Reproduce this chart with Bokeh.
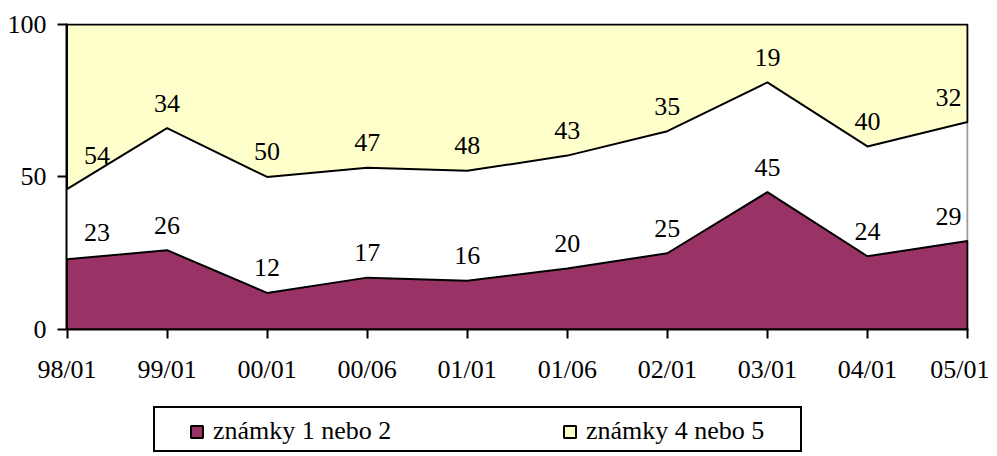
from bokeh.plotting import figure
from bokeh.layouts import column
from bokeh.models import ColumnDataSource, LabelSet, Legend, LegendItem, FixedTicker, Range1d
from bokeh.core.properties import value
from bokeh.embed import file_html
from bokeh.resources import INLINE

# ---- data ----
categories = ["98/01", "99/01", "00/01", "00/06", "01/01", "01/06", "02/01", "03/01", "04/01", "05/01"]
grades_1_2 = [23, 26, 12, 17, 16, 20, 25, 45, 24, 29]
grades_4_5 = [54, 34, 50, 47, 48, 43, 35, 19, 40, 32]
y_ticks = [0, 50, 100]
series_names = ["známky 1 nebo 2", "známky 4 nebo 5"]

FONT = "Liberation Serif"
FS = "26px"
PURPLE = "#993366"
YELLOW = "#FFFFCC"

n = len(categories)
x = list(range(n))
top_boundary = [100 - v for v in grades_4_5]

W = 989
FRAME_W, FRAME_H = 902, 306
p = figure(width=W, height=400, output_backend="svg", toolbar_location=None,
           x_range=Range1d(-0.005, n - 1 + 0.01), y_range=Range1d(0, 100.3),
           min_border_left=66, min_border_right=21, min_border_top=23, min_border_bottom=71)
p.outline_line_color = None
p.xgrid.visible = False
p.ygrid.visible = False
p.background_fill_color = "white"
p.border_fill_color = "white"

# right plot-area border (gray)
p.segment(x0=[x[-1]], y0=[0], x1=[x[-1]], y1=[100], line_color="#9a9a9a", line_width=2)

# yellow area (grades 4/5) hanging from the top
r_yellow = p.patch(x + [x[-1], x[0]], top_boundary + [100, 100],
                   fill_color=YELLOW, line_color="black", line_width=2)
# purple area (grades 1/2) from the bottom
r_purple = p.patch(x + [x[-1], x[0]], grades_1_2 + [0, 0],
                   fill_color=PURPLE, line_color="black", line_width=2)

# data labels: edge labels are nudged inwards, and lifted if the line rises under them
def shift(i):
    return 30 if i == 0 else (-19 if i == n - 1 else 0)

def lift(ys, i):
    s = shift(i)
    if s == 0:
        return 25
    j = i + 1 if s > 0 else i - 1
    rise_px = (ys[j] - ys[i]) * FRAME_H / 100 * abs(s) / (FRAME_W / (n - 1))
    return 25 + max(0.0, rise_px) * 0.5

xoff = [shift(i) for i in range(n)]
for ys, labels in ((grades_1_2, grades_1_2), (top_boundary, grades_4_5)):
    src = ColumnDataSource(dict(x=x, y=ys, text=[str(v) for v in labels], xoff=xoff,
                                yoff=[lift(ys, i) for i in range(n)]))
    p.add_layout(LabelSet(x="x", y="y", text="text", source=src, x_offset="xoff", y_offset="yoff",
                          text_align="center", text_baseline="middle",
                          text_font=value(FONT), text_font_size=FS, text_color="black"))

# axes
p.xaxis.ticker = FixedTicker(ticks=x)
p.xaxis.major_label_overrides = {i: c for i, c in enumerate(categories)}
p.yaxis.ticker = FixedTicker(ticks=y_ticks)
for ax in (p.xaxis[0], p.yaxis[0]):
    ax.axis_line_width = 2
    ax.axis_line_color = "black"
    ax.major_tick_line_width = 2
    ax.major_tick_line_color = "black"
    ax.major_tick_out = 9
    ax.major_tick_in = 0
    ax.minor_tick_line_color = None
    ax.major_label_text_font = FONT
    ax.major_label_text_font_size = FS
    ax.major_label_text_color = "black"
p.xaxis.major_label_standoff = 16
p.yaxis.major_label_standoff = 11

# ---- legend strip below the chart (its frame is aligned with the chart frame) ----
lg = figure(width=W, height=56, output_backend="svg", toolbar_location=None,
            x_axis_type=None, y_axis_type=None, x_range=Range1d(0, 1), y_range=Range1d(0, 1),
            min_border=0)
lg.outline_line_color = None
lg.xgrid.visible = False
lg.ygrid.visible = False
lg.background_fill_color = "white"
lg.border_fill_color = "white"

# key swatches: one off-range point each so only the legend glyph shows
dummy = lg.scatter(x=[5], y=[5], fill_alpha=0, line_alpha=0)
k_purple = lg.quad(left=[5], right=[6], top=[6], bottom=[5],
                   fill_color=PURPLE, line_color="black", line_width=2)
k_yellow = lg.quad(left=[5], right=[6], top=[6], bottom=[5],
                   fill_color=YELLOW, line_color="black", line_width=2)

box = Legend(items=[LegendItem(label=value(" "), renderers=[dummy])],
             location=(87, 4), orientation="horizontal", padding=6, margin=0,
             glyph_width=15, glyph_height=15, label_standoff=9, label_width=609, label_height=30,
             border_line_color="black", border_line_width=2.5, border_line_alpha=1,
             background_fill_color="white", background_fill_alpha=1,
             label_text_alpha=0, label_text_font_size=FS)
lg.add_layout(box, "center")

leg = Legend(items=[LegendItem(label=value(series_names[0]), renderers=[k_purple]),
                    LegendItem(label=value(series_names[1]), renderers=[k_yellow])],
             location=(117, 4), orientation="horizontal", padding=6, margin=0, spacing=169,
             glyph_width=15, glyph_height=15, label_standoff=9, label_width=180, label_height=30,
             border_line_alpha=0, background_fill_alpha=0,
             label_text_font=FONT, label_text_font_size=FS, label_text_color="black")
lg.add_layout(leg, "center")

layout = column(p, lg, spacing=0)
open("out.html", "w").write(file_html(layout, INLINE))
